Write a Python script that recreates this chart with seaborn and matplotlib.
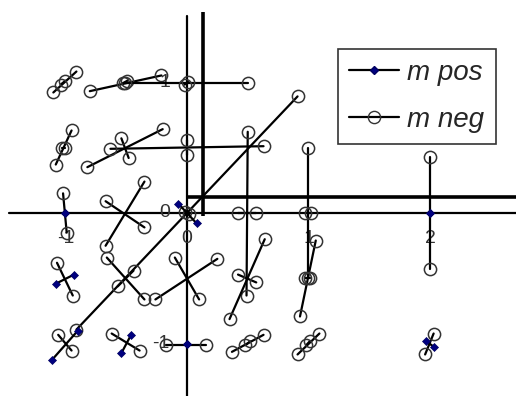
import pandas as pd
import seaborn as sns
import matplotlib.pyplot as plt
from matplotlib.lines import Line2D

# "m neg" segments: start point / end point
neg_x0 = [-1.10, -1.04, -0.80, -0.53, -0.51, -0.02, -1.08, -1.03, -0.82, -0.54, -0.63, 0.00, -1.02,
          -0.35, -0.67, 0.91, -0.02, 0.50, 0.42, 1.00, 0.97, 2.00, -1.07, -0.66, -0.57, -0.26,
          -0.10, 0.64, 0.42, 1.06, 0.97, -1.06, -0.62, -0.17, 0.37, 0.48, 0.91, 0.98, 1.96]
neg_y0 = [0.92, 0.98, 0.93, 0.99, 0.99, 0.98, 0.37, 0.50, 0.35, 0.57, 0.49, 0.56, 0.15,
          0.24, 0.09, 0.89, 0.01, 0.62, 0.00, 0.50, 0.00, 0.43, -0.38, -0.34, -0.56, -0.66,
          -0.34, -0.20, -0.47, -0.21, -0.50, -0.93, -0.92, -1.01, -1.06, -1.01, -1.08, -1.01, -1.08]
neg_x1 = [-0.91, -1.00, -0.21, -0.49, 0.50, 0.01, -0.95, -1.00, -0.20, -0.48, 0.63, 0.00, -0.99,
          -0.67, -0.35, -0.91, 0.02, 0.49, 0.57, 1.00, 1.02, 2.00, -0.94, -0.35, -0.44, 0.25,
          0.10, 0.35, 0.57, 0.93, 1.01, -0.95, -0.39, 0.16, 0.63, 0.52, 1.09, 1.01, 2.03]
neg_y1 = [1.08, 1.01, 1.05, 1.01, 0.99, 1.00, 0.63, 0.50, 0.64, 0.42, 0.51, 0.44, -0.15,
          -0.25, -0.11, -0.89, -0.01, -0.63, 0.00, -0.50, 0.00, -0.43, -0.63, -0.66, -0.44, -0.35,
          -0.66, -0.81, -0.53, -0.79, -0.50, -1.05, -1.05, -1.01, -0.93, -0.98, -0.92, -0.98, -0.92]

# "m pos" segments
pos_x0 = [-1.00, -0.07, 2.00, -1.08, -1.11, -0.54, 0.00, 1.97]
pos_y0 = [0.00, 0.07, 0.00, -0.54, -1.12, -1.07, -1.00, -0.98]
pos_x1 = [-1.00, 0.08, 2.00, -0.93, -0.90, -0.46, 0.00, 2.03]
pos_y1 = [0.00, -0.08, 0.00, -0.47, -0.90, -0.93, -1.00, -1.02]

tick_vals = [-1, 0, 1, 2]
ytick_vals = [1, 0, -1]


def to_long(x0, y0, x1, y1):
    n = len(x0)
    return pd.DataFrame({'x': list(x0) + list(x1),
                         'y': list(y0) + list(y1),
                         'seg': list(range(n)) * 2}).sort_values('seg', kind='stable')


neg = to_long(neg_x0, neg_y0, neg_x1, neg_y1)
pos = to_long(pos_x0, pos_y0, pos_x1, pos_y1)

sns.set_style('white')
plt.rcParams['font.family'] = ['Liberation Sans', 'DejaVu Sans']

fig = plt.figure(figsize=(5.16, 3.96), dpi=100)
ax = fig.add_axes([0, 0, 1, 1])

# axes crosses
ax.axvline(0, ymin=0, ymax=0.96, color='black', lw=1.6, zorder=1)
ax.axhline(0, xmin=0.018, xmax=1, color='black', lw=1.6, zorder=1)
ax.vlines(0.132, -0.023, 1.534, color='black', lw=2.6, zorder=1)
ax.hlines(0.122, 0, 2.71, color='black', lw=2.6, zorder=1)

sns.lineplot(data=neg, x='x', y='y', units='seg', estimator=None, sort=False, ax=ax,
             color='black', lw=1.6, marker='o', ms=8.8, mfc='none', mec='#333333',
             mew=1.1, legend=False, zorder=3)
sns.lineplot(data=pos, x='x', y='y', units='seg', estimator=None, sort=False, ax=ax,
             color='black', lw=1.6, marker='D', ms=4, mfc='#000080', mec='#000060',
             mew=0.5, legend=False, zorder=4)

for v in tick_vals:
    ax.text(v, -0.195, str(v), ha='center', va='center', fontsize=14, color='#333333', zorder=2)
for v in ytick_vals:
    ax.text(-0.14, v, str(v), ha='right', va='center', fontsize=14, color='#333333', zorder=2)

ax.set_xlim(-1.539, 2.708)
ax.set_ylim(-1.397, 1.626)
ax.set(xlabel='', ylabel='')
ax.set_axis_off()

handles = [Line2D([], [], color='black', lw=1.6, marker='D', ms=4, mfc='#000080', mec='#000060'),
           Line2D([], [], color='black', lw=1.6, marker='o', ms=8.8, mfc='none', mec='#333333')]
leg = ax.legend(handles, ['m pos', 'm neg'], loc='upper left', bbox_to_anchor=(0.655, 0.876),
                bbox_transform=fig.transFigure, borderaxespad=0, fancybox=False,
                edgecolor='#333333', framealpha=1, prop={'style': 'italic', 'size': 20},
                handlelength=1.8, handletextpad=0.3, borderpad=0.4, labelspacing=0.75)
leg.get_frame().set_linewidth(1.2)

fig.savefig('out.png', dpi=100)
